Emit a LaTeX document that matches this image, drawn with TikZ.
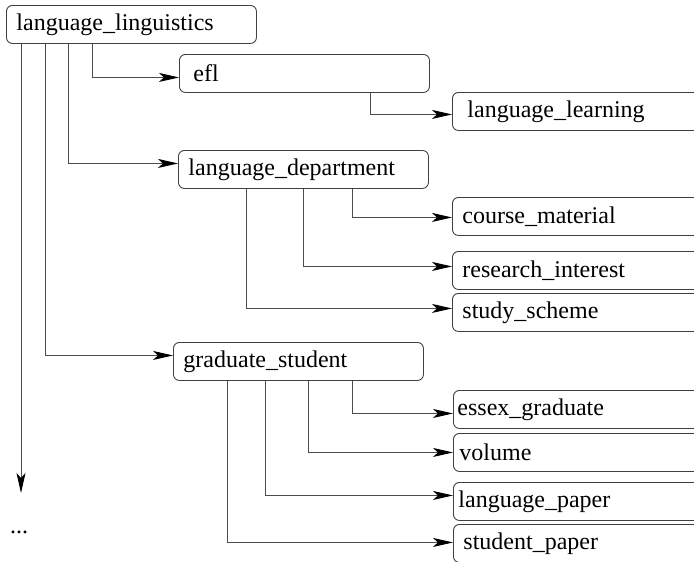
\documentclass[tikz,border=0pt]{standalone}
\usepackage{fontspec}
\setmainfont{Liberation Serif}
\usetikzlibrary{arrows.meta, positioning, calc}

\begin{document}
\begin{tikzpicture}[
    x=1pt, y=-1pt,
    font=\fontsize{24}{28}\selectfont,
    box/.style={draw=black!75, line width=0.9pt, rounded corners=6pt, anchor=north west,
        minimum height=38pt, text width=#1, align=left, inner xsep=10pt, inner ysep=0pt},
    box/.default=230pt,
    link/.style={draw=black!70, line width=0.9pt, -{Stealth[length=20pt, width=9pt, inset=5pt, black]}}
]
\useasboundingbox (0,0) rectangle (694,562);

% Root and first level
\node[box] (ling) at (6,5) {language\_linguistics};
\node[box] (efl) at (179,54) {\hspace*{4pt}efl};
\node[box] (dept) at (178,150) {language\_department};
\node[box] (grad) at (173,342) {graduate\_student};

% Second level
\node[box=270pt] (learn) at (452,92) {\hspace*{5pt}language\_learning};
\node[box=270pt] (course) at (452,197) {course\_material};
\node[box=270pt] (research) at (452,251) {research\_interest};
\node[box=270pt] (study) at (452,293) {study\_scheme};
\node[box=270pt, inner xsep=4pt] (essex) at (453,390) {essex\_graduate};
\node[box=270pt, inner xsep=6pt] (volume) at (453,433) {volume};
\node[box=270pt, inner xsep=5pt] (langpaper) at (453,482) {language\_paper};
\node[box=270pt] (studpaper) at (453,524) {student\_paper};

% Continuation
\coordinate (tail) at (21,493);
\node (more) at (19,532) {...};

% Connectors
\draw[link] (ling.south west -| tail) -- (tail);
\draw[link] ([xshift=86pt]ling.south west) |- ([yshift=-4pt]efl.west);
\draw[link] ([xshift=62pt]ling.south west) |- ([yshift=6pt]dept.west);
\draw[link] ([xshift=39pt]ling.south west) |- ([yshift=6pt]grad.west);

\draw[link] ([xshift=191pt]efl.south west) |- ([yshift=-3pt]learn.west);

\draw[link] ([xshift=174pt]dept.south west) |- ([yshift=-1pt]course.west);
\draw[link] ([xshift=125pt]dept.south west) |- ([yshift=4pt]research.west);
\draw[link] ([xshift=68pt]dept.south west) |- ([yshift=4pt]study.west);

\draw[link] ([xshift=179pt]grad.south west) |- ([yshift=-4pt]essex.west);
\draw[link] ([xshift=135pt]grad.south west) |- (volume.west);
\draw[link] ([xshift=92pt]grad.south west) |- ([yshift=6pt]langpaper.west);
\draw[link] ([xshift=54pt]grad.south west) |- ([yshift=1pt]studpaper.west);

\end{tikzpicture}
\end{document}
